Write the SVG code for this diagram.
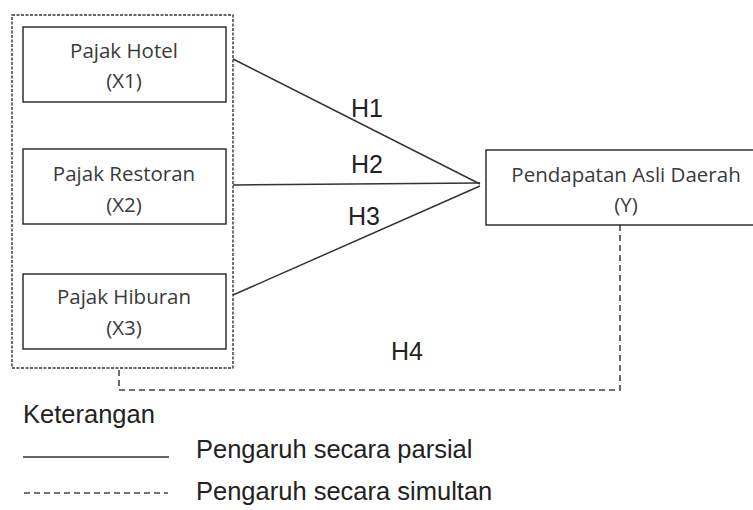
<svg xmlns="http://www.w3.org/2000/svg" width="753" height="510" viewBox="0 0 753 510">
<style>
.box{fill:#fff;stroke:#222;stroke-width:1.4}
.grp{fill:none;stroke:#333;stroke-width:1.4;stroke-dasharray:3 1.5}
.lbl{font-family:"Open Sans","Noto Sans",sans-serif;font-size:20.5px;fill:#3a3a3a;text-anchor:middle}
.h{font-family:"Liberation Sans",Arial,sans-serif;font-size:25px;fill:#222}
.leg{font-family:"Liberation Sans",Arial,sans-serif;font-size:25.5px;fill:#222}
.solid{fill:none;stroke:#333;stroke-width:1.5}
.dash{fill:none;stroke:#444;stroke-width:1.6;stroke-dasharray:6 4}
</style>
<rect width="753" height="510" fill="#fff"/>
<g id="group-x">
<rect class="grp" x="12" y="15" width="221" height="353"/>
</g>
<g id="connectors">
<line class="solid" x1="233" y1="59" x2="480" y2="184"/>
<line class="solid" x1="233" y1="185" x2="480" y2="183"/>
<line class="solid" x1="233" y1="295" x2="480" y2="186"/>
<polyline class="dash" points="620,225 620,390 119,390 119,368"/>
</g>
<g id="x1">
<rect class="box" x="23" y="27" width="203" height="75"/>
<text class="lbl" x="124" y="58">Pajak Hotel</text>
<text class="lbl" x="124" y="88">(X1)</text>
</g>
<g id="x2">
<rect class="box" x="23" y="149" width="203" height="75"/>
<text class="lbl" x="124" y="181">Pajak Restoran</text>
<text class="lbl" x="124" y="212">(X2)</text>
</g>
<g id="x3">
<rect class="box" x="23" y="274" width="203" height="75"/>
<text class="lbl" x="124" y="304">Pajak Hiburan</text>
<text class="lbl" x="124" y="335">(X3)</text>
</g>
<g id="y">
<rect class="box" x="486" y="150" width="290" height="75"/>
<text class="lbl" x="626" y="182">Pendapatan Asli Daerah</text>
<text class="lbl" x="626" y="212">(Y)</text>
</g>
<g id="labels">
<text class="h" x="351" y="117">H1</text>
<text class="h" x="351" y="173">H2</text>
<text class="h" x="348" y="225">H3</text>
<text class="h" x="391" y="360">H4</text>
</g>
<g id="legend">
<text class="leg" x="23" y="423">Keterangan</text>
<line class="solid" x1="23" y1="457" x2="169" y2="457"/>
<text class="leg" x="196" y="458">Pengaruh secara parsial</text>
<line class="dash" x1="24" y1="493" x2="168" y2="493"/>
<text class="leg" x="196" y="500">Pengaruh secara simultan</text>
</g>
</svg>
